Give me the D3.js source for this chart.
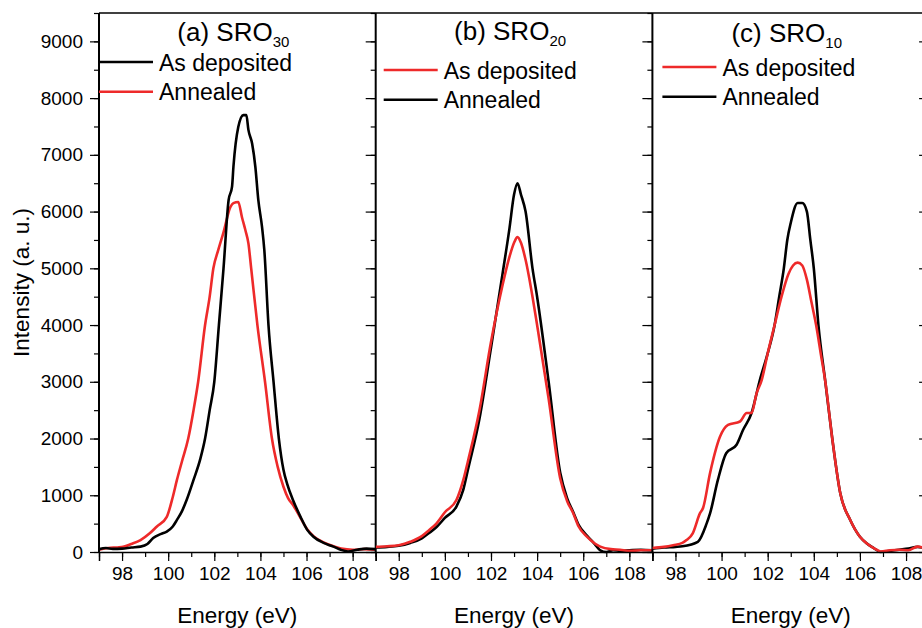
<!DOCTYPE html>
<html>
<head>
<meta charset="utf-8">
<script src="https://cdn.jsdelivr.net/npm/d3@7"></script>
<style>
  html, body { margin: 0; padding: 0; background: #fff; }
  svg { display: block; font-family: "Liberation Sans", Arial, sans-serif; }
</style>
</head>
<body>
<svg id="chart" width="922" height="628"></svg>
<script>
// ---------------- DATA ----------------
const panelLabels = ["(a) SRO", "(b) SRO", "(c) SRO"];
const panelSubs = ["30", "20", "10"];
const seriesNames = ["As deposited", "Annealed"];
// legend colour order per panel: [first legend entry, second legend entry]
const legendColorKeys = [["black", "red"], ["red", "black"], ["red", "black"]];
const xTickValues = [98, 100, 102, 104, 106, 108];
const yTickValues = [0, 1000, 2000, 3000, 4000, 5000, 6000, 7000, 8000, 9000];

// Panel (a): black = As deposited, red = Annealed
const aBlackE = [97, 97.3, 97.6, 98, 98.4, 98.8, 99.1, 99.35, 99.7, 99.94, 100.2, 100.38, 100.6, 100.8, 101.1, 101.4, 101.6, 101.8, 102.0, 102.2, 102.4, 102.62, 102.77, 102.83, 103.04, 103.26, 103.39, 103.48, 103.64, 103.78, 103.91, 104.07, 104.17, 104.35, 104.57, 104.8, 105.0, 105.16, 105.43, 105.74, 106.03, 106.3, 106.74, 107.17, 107.48, 107.8, 108.2, 108.6, 109];
const aBlackI = [50, 70, 55, 60, 80, 95, 140, 245, 320, 360, 450, 565, 720, 915, 1270, 1650, 2000, 2500, 3000, 4000, 5000, 6200, 6440, 6790, 7490, 7700, 7700, 7440, 7200, 6790, 6200, 5730, 5320, 4000, 3000, 2000, 1450, 1200, 900, 620, 390, 270, 160, 95, 40, 10, 40, 60, 50];
const aRedE = [97, 97.4, 97.8, 98.05, 98.4, 98.8, 99.2, 99.5, 99.94, 100.2, 100.38, 100.6, 100.87, 101.1, 101.3, 101.6, 101.8, 101.96, 102.17, 102.39, 102.7, 102.83, 103.04, 103.2, 103.35, 103.48, 103.6, 103.87, 104.2, 104.5, 104.75, 105.0, 105.2, 105.43, 105.74, 106.03, 106.3, 106.74, 107.17, 107.5, 108, 108.5, 109];
const aRedI = [40, 70, 80, 90, 140, 210, 330, 446, 620, 970, 1270, 1600, 2000, 2500, 3000, 4000, 4500, 5000, 5320, 5620, 6080, 6150, 6170, 5900, 5670, 5440, 5000, 4000, 3000, 2000, 1500, 1150, 950, 820, 600, 400, 280, 170, 100, 60, 40, 50, 40];

// Panel (b): red = As deposited, black = Annealed
const bRedE = [97, 97.5, 98, 98.5, 99, 99.3, 99.64, 100.0, 100.5, 100.8, 101.0, 101.5, 102.0, 102.5, 102.8, 103.0, 103.15, 103.3, 103.5, 103.8, 104.0, 104.5, 105.0, 105.3, 105.57, 105.8, 106.16, 106.5, 106.74, 107.2, 107.6, 108, 108.5, 109];
const bRedI = [90, 100, 120, 180, 280, 380, 505, 700, 916, 1270, 1600, 2500, 3700, 4700, 5200, 5450, 5550, 5450, 5150, 4500, 4000, 2700, 1300, 900, 680, 450, 270, 150, 95, 50, 40, 20, 30, 30];
const bBlackE = [97, 97.5, 98, 98.5, 99, 99.3, 99.64, 100.0, 100.5, 100.8, 101.0, 101.5, 102.0, 102.5, 102.8, 103.0, 103.15, 103.3, 103.5, 103.8, 104.0, 104.5, 105.0, 105.3, 105.57, 105.8, 106.16, 106.5, 106.74, 107.0, 107.3, 107.6, 108, 108.5, 109];
const bBlackI = [80, 90, 110, 160, 240, 330, 440, 600, 800, 1100, 1450, 2350, 3600, 4900, 5700, 6300, 6500, 6300, 6000, 5000, 4500, 3000, 1400, 950, 700, 480, 290, 140, 30, 0, 30, 20, 30, 40, 30];

// Panel (c): red = As deposited, black = Annealed
const cRedE = [97, 97.5, 97.9, 98.3, 98.48, 98.75, 99.06, 99.2, 99.5, 99.93, 100.28, 100.8, 101.09, 101.3, 101.52, 101.74, 102.0, 102.3, 102.6, 102.9, 103.1, 103.3, 103.5, 103.7, 103.9, 104.1, 104.3, 104.5, 104.8, 105.15, 105.58, 106.0, 106.3, 106.6, 106.9, 107.3, 107.7, 108.1, 108.5, 109];
const cRedI = [70, 90, 120, 160, 210, 330, 680, 780, 1390, 2030, 2240, 2300, 2450, 2450, 2800, 3030, 3500, 4000, 4500, 4900, 5050, 5100, 5050, 4800, 4400, 4000, 3500, 3000, 2000, 1030, 565, 270, 150, 70, 10, 30, 40, 30, 95, 40];
const cBlackE = [97, 97.5, 98, 98.3, 98.97, 99.35, 99.5, 99.84, 100.2, 100.65, 100.93, 101.3, 101.66, 102.0, 102.3, 102.5, 102.7, 102.85, 103.0, 103.3, 103.5, 103.7, 103.85, 104.0, 104.2, 104.5, 104.8, 105.15, 105.58, 106.0, 106.3, 106.6, 106.9, 107.3, 107.7, 108.1, 108.5, 109];
const cBlackI = [60, 80, 90, 100, 180, 500, 680, 1270, 1740, 1890, 2150, 2450, 3030, 3500, 4000, 4500, 5000, 5500, 5800, 6150, 6150, 6000, 5500, 5000, 4000, 3000, 2000, 1030, 565, 270, 150, 70, 0, 20, 40, 60, 90, 40];

const panelSeries = [
  { red: [aRedE, aRedI], black: [aBlackE, aBlackI] },
  { red: [bRedE, bRedI], black: [bBlackE, bBlackI] },
  { red: [cRedE, cRedI], black: [cBlackE, cBlackI] }
];

// ---------------- LAYOUT ----------------
const colors = { black: "#000000", red: "#ee2a2a" };
const plotTop = 13, plotBottom = 552;
const firstLeft = 99, panelW = 276.7;
const svg = d3.select("#chart");

const y = d3.scaleLinear().domain([0, 9500]).range([plotBottom, plotTop]);

// Y label
svg.append("text")
  .attr("transform", `translate(29,${(plotTop + plotBottom) / 2}) rotate(-90)`)
  .attr("text-anchor", "middle")
  .attr("font-size", 22.5)
  .text("Intensity (a. u.)");

// top border
svg.append("line")
  .attr("x1", firstLeft).attr("x2", 922)
  .attr("y1", plotTop).attr("y2", plotTop)
  .attr("stroke", "#000").attr("stroke-width", 1.5);

const minorY = d3.range(0, 9501, 500);
const minorX = d3.range(97, 109.01, 1);

panelSeries.forEach((ps, i) => {
  const left = firstLeft + i * panelW;
  const right = left + panelW;
  const x = d3.scaleLinear().domain([97, 109]).range([left, right]);
  const g = svg.append("g");

  const clipId = "clip" + i;
  svg.append("clipPath").attr("id", clipId).append("rect")
    .attr("x", left).attr("y", plotTop).attr("width", panelW).attr("height", plotBottom - plotTop + 3);

  // curves
  const line = d3.line().x(d => x(d[0])).y(d => y(d[1])).curve(d3.curveMonotoneX);
  const order = i === 0 ? ["red", "black"] : ["black", "red"];
  order.forEach(k => {
    const [E, I] = ps[k];
    g.append("path")
      .datum(E.map((e, j) => [e, I[j]]))
      .attr("clip-path", `url(#${clipId})`)
      .attr("d", line)
      .attr("fill", "none")
      .attr("stroke", colors[k])
      .attr("stroke-width", 2.6)
      .attr("stroke-linejoin", "round");
  });

  // x axis minor + major
  const xMinor = d3.axisBottom(x).tickValues(minorX).tickSize(5).tickFormat("");
  g.append("g").attr("transform", `translate(0,${plotBottom})`).call(xMinor)
    .call(a => a.select(".domain").remove())
    .call(a => a.selectAll("line").attr("stroke-width", 1.2));
  const xMajor = d3.axisBottom(x).tickValues(xTickValues).tickSize(9).tickPadding(6).tickFormat(d3.format("d"));
  g.append("g").attr("transform", `translate(0,${plotBottom})`).call(xMajor)
    .call(a => a.select(".domain").attr("stroke-width", 1.5))
    .call(a => a.selectAll("line").attr("stroke-width", 1.2))
    .call(a => a.selectAll("text").attr("font-size", 19).attr("font-family", "Liberation Sans, Arial, sans-serif").attr("fill", "#000"));

  // right border ticks (pointing inward)
  const yMinorR = d3.axisLeft(y).tickValues(minorY).tickSize(5).tickFormat("");
  g.append("g").attr("transform", `translate(${right},0)`).call(yMinorR)
    .call(a => a.select(".domain").remove())
    .call(a => a.selectAll("line").attr("stroke-width", 1.2));
  const yMajorR = d3.axisLeft(y).tickValues(yTickValues).tickSize(10).tickFormat("");
  g.append("g").attr("transform", `translate(${right},0)`).call(yMajorR)
    .call(a => a.select(".domain").remove())
    .call(a => a.selectAll("line").attr("stroke-width", 1.2));
  g.append("line").attr("x1", right).attr("x2", right).attr("y1", plotTop).attr("y2", plotBottom)
    .attr("stroke", "#000").attr("stroke-width", 2);

  if (i === 0) {
    const yMinorL = d3.axisLeft(y).tickValues(minorY).tickSize(5).tickFormat("");
    g.append("g").attr("transform", `translate(${left},0)`).call(yMinorL)
      .call(a => a.select(".domain").remove())
      .call(a => a.selectAll("line").attr("stroke-width", 1.2));
    const yMajorL = d3.axisLeft(y).tickValues(yTickValues).tickSize(9).tickPadding(7).tickFormat(d3.format("d"));
    g.append("g").attr("transform", `translate(${left},0)`).call(yMajorL)
      .call(a => a.select(".domain").remove())
      .call(a => a.selectAll("line").attr("stroke-width", 1.2))
      .call(a => a.selectAll("text").attr("font-size", 19).attr("font-family", "Liberation Sans, Arial, sans-serif").attr("fill", "#000"));
    g.append("line").attr("x1", left).attr("x2", left).attr("y1", plotTop).attr("y2", plotBottom)
      .attr("stroke", "#000").attr("stroke-width", 2);
  }

  // x axis title
  g.append("text")
    .attr("x", (left + right) / 2).attr("y", 623)
    .attr("text-anchor", "middle").attr("font-size", 22.5)
    .text("Energy (eV)");

  // panel title with subscript
  const t = g.append("text")
    .attr("x", (left + right) / 2 - 4).attr("y", [41, 40, 42][i])
    .attr("text-anchor", "middle").attr("font-size", 26);
  t.append("tspan").text(panelLabels[i]);
  t.append("tspan").attr("font-size", 15).attr("dy", 6).text(panelSubs[i]);

  // legend
  const legX = [0, 8, 10][i];
  const legY = [62, 70, 67][i];
  legendColorKeys[i].forEach((k, j) => {
    const ly = legY + j * 29.7;
    g.append("line")
      .attr("x1", left + legX).attr("x2", left + legX + 54)
      .attr("y1", ly).attr("y2", ly)
      .attr("stroke", colors[k]).attr("stroke-width", 2.6);
    g.append("text")
      .attr("x", left + legX + 60).attr("y", ly + 8.5)
      .attr("font-size", 23)
      .text(seriesNames[j]);
  });
});
</script>
</body>
</html>
